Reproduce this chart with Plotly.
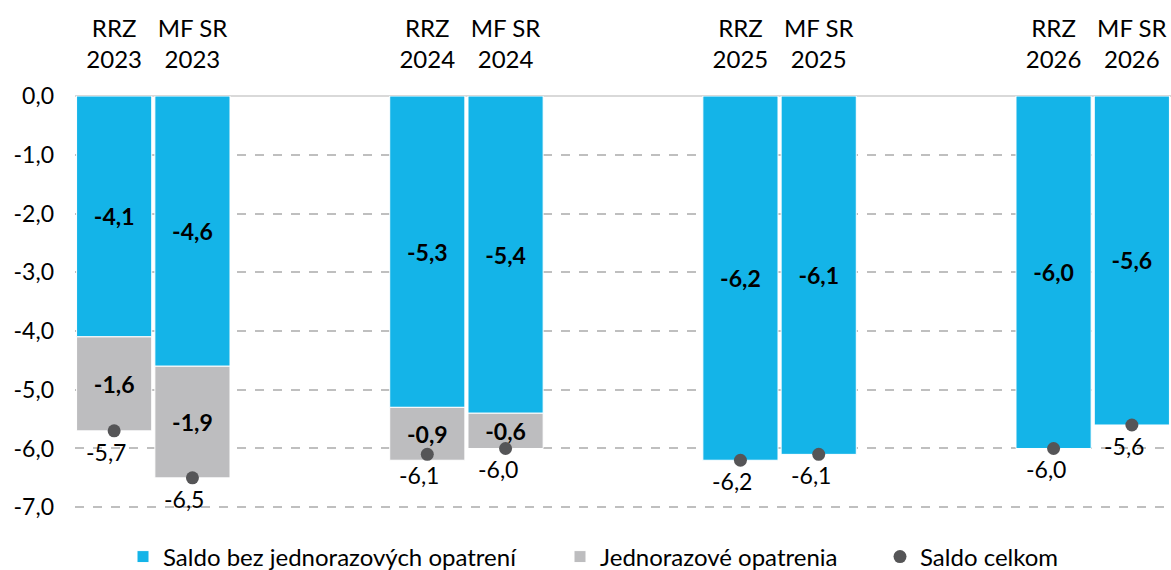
import plotly.graph_objects as go

categories = ["RRZ<br>2023", "MF SR<br>2023", "RRZ<br>2024", "MF SR<br>2024",
              "RRZ<br>2025", "MF SR<br>2025", "RRZ<br>2026", "MF SR<br>2026"]
axis_order = ["RRZ<br>2023", "MF SR<br>2023", " ", "  ",
              "RRZ<br>2024", "MF SR<br>2024", "   ", "    ",
              "RRZ<br>2025", "MF SR<br>2025", "     ", "      ",
              "RRZ<br>2026", "MF SR<br>2026"]
saldo_bez = [-4.1, -4.6, -5.3, -5.4, -6.2, -6.1, -6.0, -5.6]
jednorazove = [-1.6, -1.9, -0.9, -0.6, None, None, None, None]
saldo_celkom = [-5.7, -6.5, -6.1, -6.0, -6.2, -6.1, -6.0, -5.6]
y_ticks = [0, -1, -2, -3, -4, -5, -6, -7]

def fmt(v):
    return f"{v:.1f}".replace(".", ",")

FONT = "Lato"
BLUE = "#14B4E8"
GRAY = "#BDBDBF"
DOT = "#555557"
W, H = 1171, 570

fig = go.Figure()
fig.add_trace(go.Bar(
    x=categories, y=saldo_bez, name="Saldo bez jednorazových opatrení",
    marker=dict(color=BLUE, line=dict(color="white", width=1)),
    text=[fmt(v) for v in saldo_bez], textposition="inside",
    insidetextanchor="middle", constraintext="none",
    textfont=dict(family=FONT, size=23, color="black", weight="bold"),
    legend="legend",
))
fig.add_trace(go.Bar(
    x=categories, y=jednorazove, name="Jednorazové opatrenia",
    marker=dict(color=GRAY, line=dict(color="white", width=1)),
    text=[fmt(v) if v is not None else "" for v in jednorazove], textposition="inside",
    insidetextanchor="middle", constraintext="none",
    textfont=dict(family=FONT, size=23, color="black", weight="bold"),
    legend="legend2",
))
fig.add_trace(go.Scatter(
    x=categories, y=saldo_celkom, name="Saldo celkom", mode="markers",
    marker=dict(color=DOT, size=13),
    legend="legend3",
))
for c, v in zip(categories, saldo_celkom):
    fig.add_annotation(x=c, y=v, text=fmt(v), showarrow=False,
                       xshift=-8, yshift=-21,
                       font=dict(family=FONT, size=23, color="black"))

leg_common = dict(orientation="h", yref="container", y=13 / H, yanchor="middle",
                  xref="container", xanchor="left",
                  font=dict(family=FONT, size=24, color="black"), itemwidth=30,
                  bgcolor="rgba(0,0,0,0)")
fig.update_layout(
    barmode="relative", bargap=0.04,
    width=W, height=H,
    margin=dict(l=75, r=0, t=96, b=61, autoexpand=False),
    plot_bgcolor="white", paper_bgcolor="white",
    font=dict(family=FONT, size=23, color="black"),
    showlegend=True,
    legend=dict(x=123 / W, **leg_common),
    legend2=dict(x=560 / W, **leg_common),
    legend3=dict(x=880 / W, **leg_common),
)
fig.update_xaxes(side="top", categoryorder="array", categoryarray=axis_order,
                 type="category", showgrid=False, ticks="", showline=False,
                 automargin=False, ticklabelstandoff=22,
                 tickfont=dict(family=FONT, size=24, color="black"),
                 range=[-0.5, len(axis_order) - 0.5])
fig.update_yaxes(range=[-7.03, 0], tickvals=y_ticks,
                 ticktext=[fmt(v) for v in y_ticks], automargin=False,
                 tickfont=dict(family=FONT, size=23, color="black"),
                 showgrid=True, gridcolor="#BFBFBF", griddash="dash", gridwidth=1.5,
                 zeroline=True, zerolinecolor="#D9D9D9", zerolinewidth=2,
                 ticks="", showline=False, ticklabelstandoff=20)
fig.write_html("out.html", config={"displayModeBar": False},
               post_script="document.body.style.margin='0px';")
